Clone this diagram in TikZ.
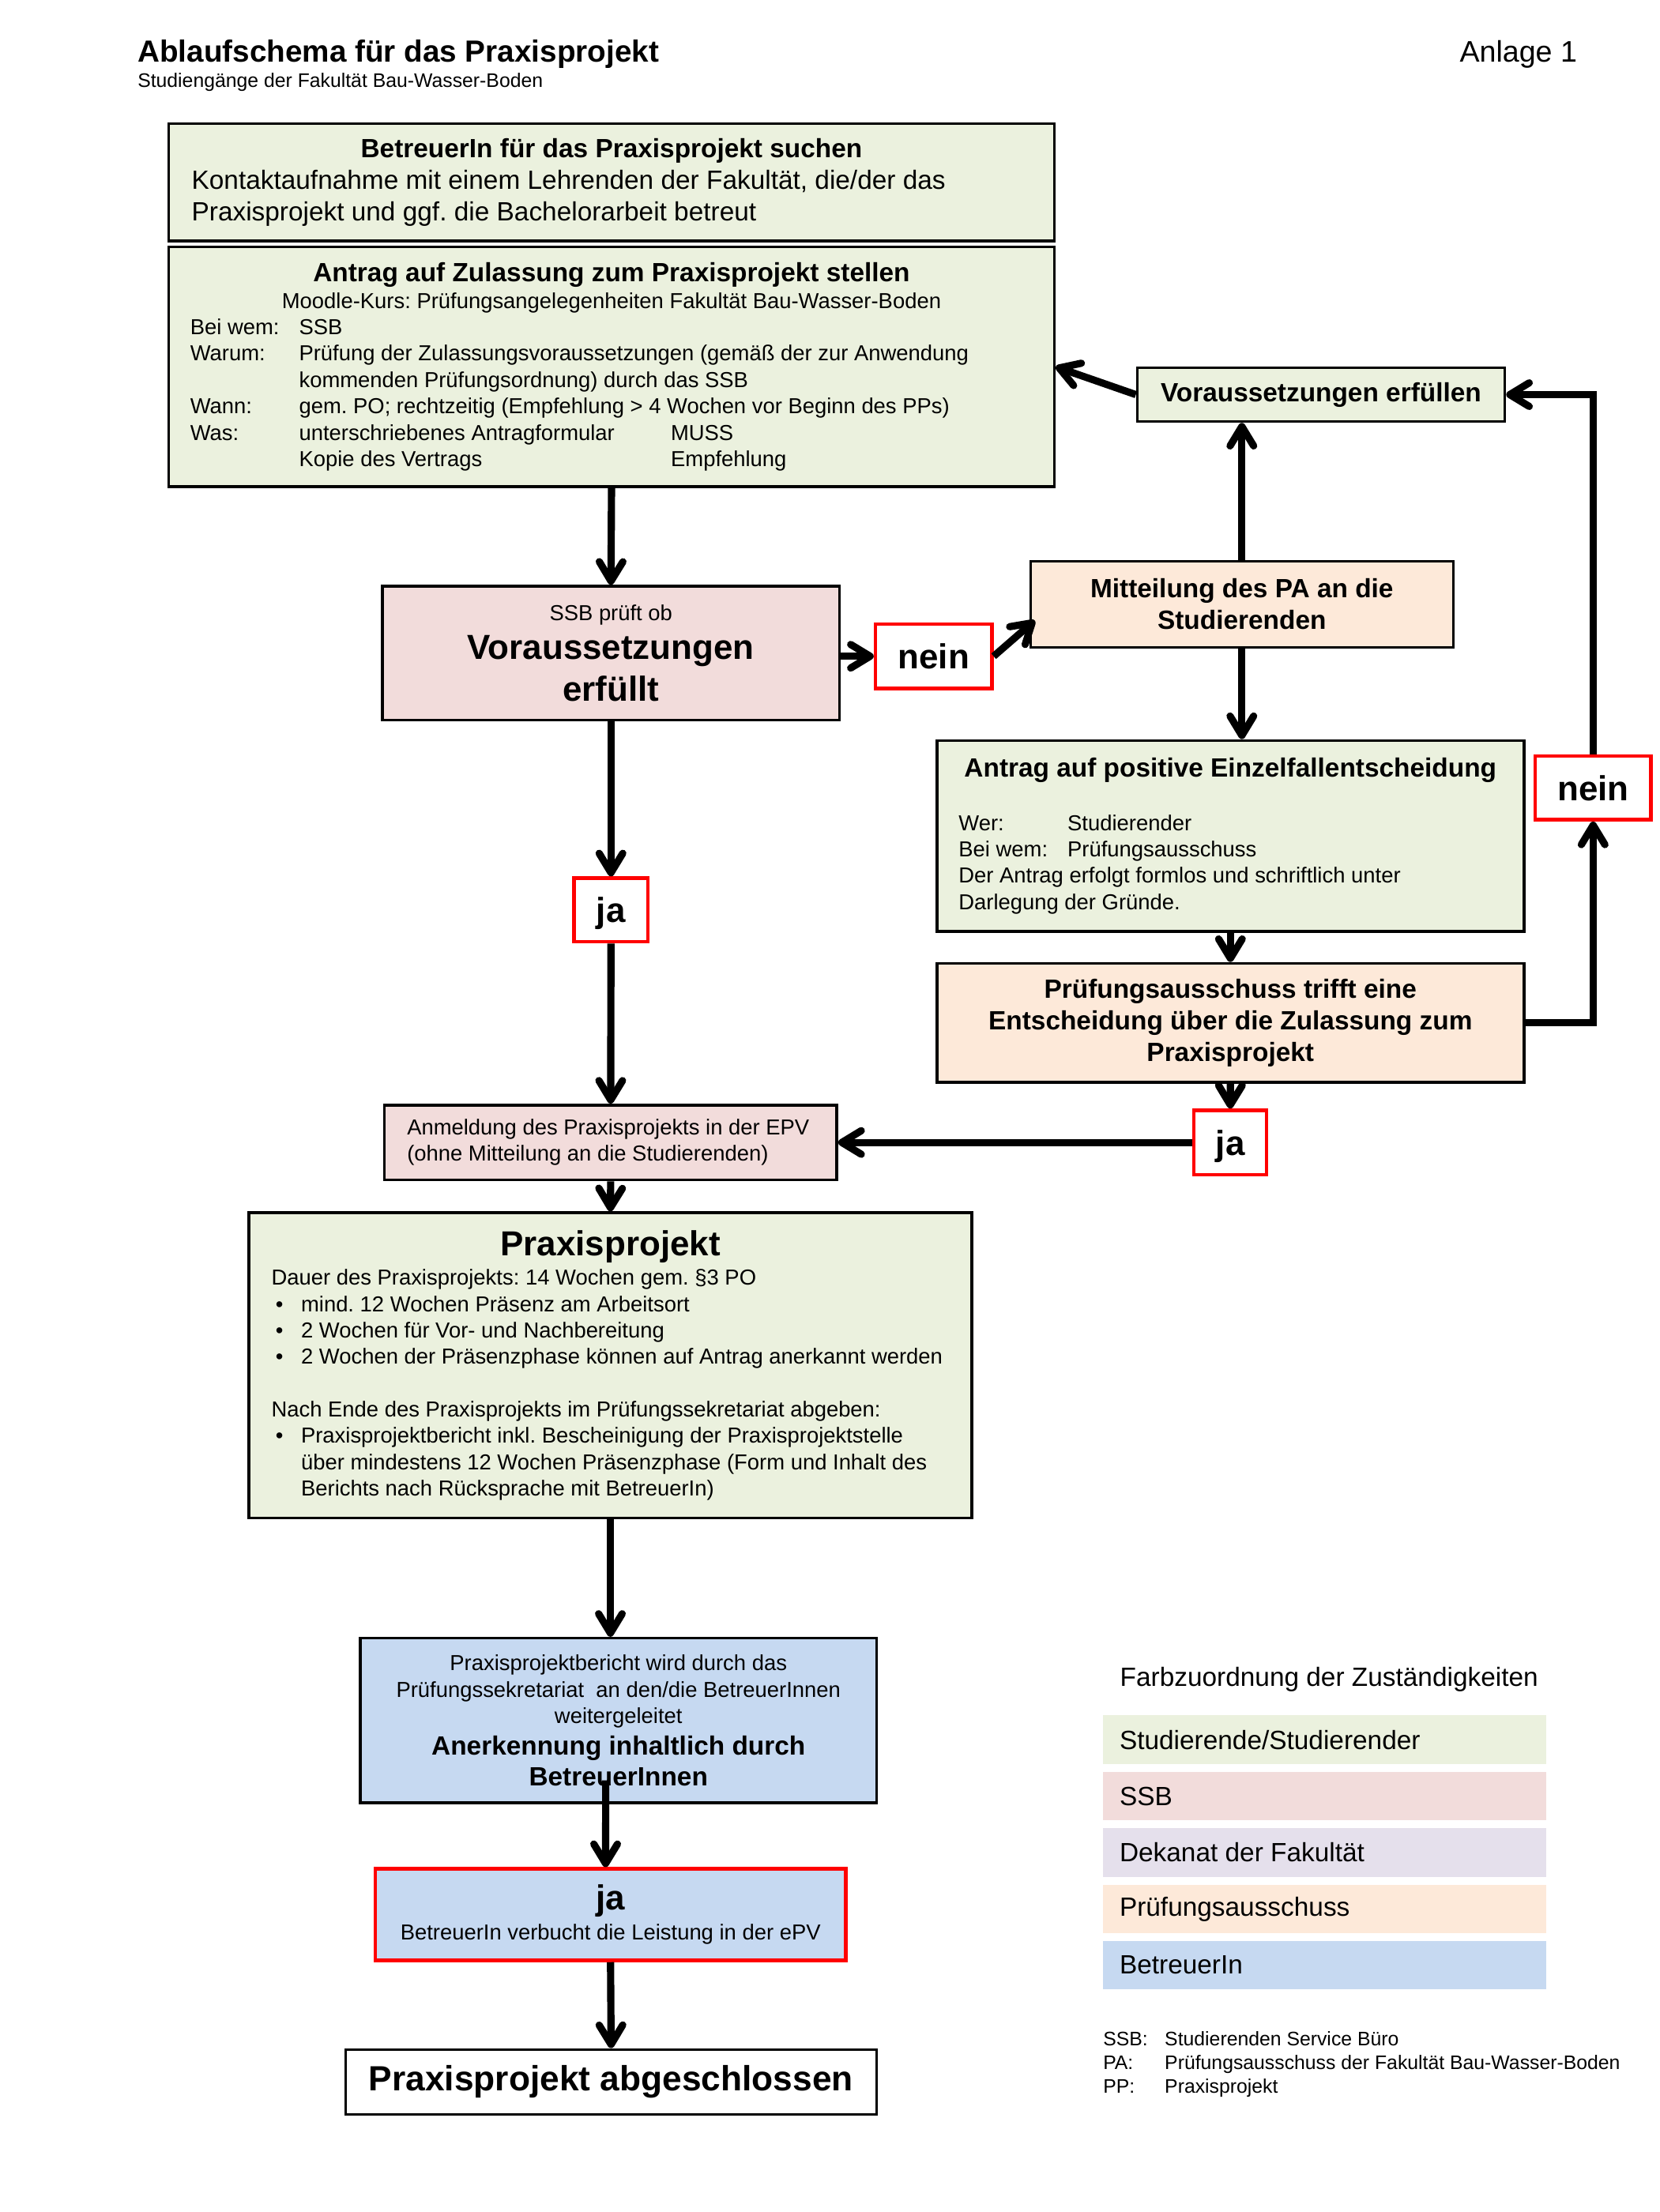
\documentclass[tikz,border=0pt]{standalone}
\usepackage{fontspec}
\setmainfont{Liberation Sans}
\usetikzlibrary{arrows.meta}
\definecolor{studgreen}{HTML}{EBF1DE}
\definecolor{ssbpink}{HTML}{F2DCDB}
\definecolor{dekpurple}{HTML}{E5E0EC}
\definecolor{paorange}{HTML}{FDE9D9}
\definecolor{betblue}{HTML}{C6D9F1}
\newdimen\px \px=0.17888mm
\newcommand\fsbody{\fontsize{9.5pt}{11.4pt}\selectfont}
\newcommand\fssmall{\fontsize{7.8pt}{9.5pt}\selectfont}
\newcommand\fsbig{\fontsize{12.5pt}{15.2pt}\selectfont}
\newcommand\fstiny{\fontsize{7.05pt}{8.5pt}\selectfont}
\newcommand\lab[1]{\makebox[77\px][l]{#1}}
\newcommand\bul{\makebox[21\px][l]{\hspace{3\px}\textbullet}}
\frenchspacing
\tikzset{
  box/.style={draw, line width=1pt, inner sep=0pt, font=\fsbody},
  sz/.style 2 args={minimum width=#1*\px, minimum height=#2*\px},
  answer/.style={draw=red, line width=1.3pt, inner sep=0pt, fill=white, text depth=0pt, font=\fsbig\bfseries},
  flow/.style={->, line width=2.6pt},
  legend/.style={fill=#1, sz={314}{34.4}, inner sep=0pt, text width=290*\px, align=flush left, font=\fsbody}
}
\begin{document}
\begin{tikzpicture}[x=0.17888mm, y=-0.17888mm, >={Straight Barb[length=7pt,width=8.5pt,round]}]
\useasboundingbox (0,0) rectangle (1174,1565);

\node[anchor=base west, inner sep=0pt, font=\fontsize{11pt}{13pt}\selectfont\bfseries] (title) at (97,43.9) {Ablaufschema für das Praxisprojekt};
\node[anchor=base west, inner sep=0pt, font=\fstiny] (subtitle) at (97,61.9) {Studiengänge der Fakultät Bau-Wasser-Boden};
\node[anchor=base east, inner sep=0pt, font=\fontsize{10.7pt}{13pt}\selectfont] (anlage) at (1116,43.9) {Anlage 1};

\node[box, fill=studgreen, sz={626.5}{83}, text width=594*\px, align=flush left] (suchen) at (432.6,129)
  {{\centering\bfseries BetreuerIn für das Praxisprojekt suchen\par}
   Kontaktaufnahme mit einem Lehrenden der Fakultät, die/der das\\
   Praxisprojekt und ggf. die Bachelorarbeit betreut\par};
\node[box, fill=studgreen, sz={626.5}{169.7}, text width=596*\px, align=flush left] (antrag) at (432.6,259.5)
  {{\centering\bfseries Antrag auf Zulassung zum Praxisprojekt stellen\par}
   \fssmall
   {\centering Moodle-Kurs: Prüfungsangelegenheiten Fakultät Bau-Wasser-Boden\par}
   \lab{Bei wem:}SSB\\
   \lab{Warum:}Prüfung der Zulassungsvoraussetzungen (gemäß der zur Anwendung\\
   \lab{}kommenden Prüfungsordnung) durch das SSB\\
   \lab{Wann:}gem. PO; rechtzeitig (Empfehlung > 4 Wochen vor Beginn des PPs)\\
   \lab{Was:}\makebox[263\px][l]{unterschriebenes Antragformular}MUSS\\
   \lab{}\makebox[263\px][l]{Kopie des Vertrags}Empfehlung\par};
\node[box, fill=ssbpink, sz={323.3}{94.8}, text width=300*\px, align=flush center] (pruefung) at (432.2,462.1)
  {{\fssmall SSB prüft ob\par}\vspace{-1.2pt}
   {\fsbig\bfseries Voraussetzungen\\erfüllt\par}};
\node[answer, sz={82.3}{45.4}] (nein1) at (660.5,464.3) {nein};
\node[box, fill=paorange, sz={299}{61}, text width=280*\px, align=flush center, font=\fsbody\bfseries] (mitteilung) at (878.5,427.5)
  {Mitteilung des PA an die\\Studierenden};
\node[box, fill=studgreen, sz={260}{38}, font=\fsbody\bfseries] (erfuellen) at (934.5,279.2) {Voraussetzungen erfüllen};
\node[box, fill=studgreen, sz={415.3}{135}, text width=400*\px, align=flush left] (einzelfall) at (870.4,591.4)
  {{\centering\bfseries Antrag auf positive Einzelfallentscheidung\par}
   \vspace{9.8pt}\fssmall\leftskip=7.8\px\relax
   \lab{Wer:}Studierender\\
   \lab{Bei wem:}Prüfungsausschuss\\
   Der Antrag erfolgt formlos und schriftlich unter\\
   Darlegung der Gründe.\par};
\node[box, fill=paorange, sz={415.3}{84}, text width=395*\px, align=flush center, font=\fsbody\bfseries] (entscheidung) at (870.4,723.6)
  {Prüfungsausschuss trifft eine\\Entscheidung über die Zulassung zum\\Praxisprojekt};
\node[answer, sz={82}{45}] (nein2) at (1127,557.5) {nein};
\node[answer, sz={52}{45}] (ja1) at (432.2,643.8) {ja};
\node[answer, sz={51.5}{45.5}] (ja2) at (870.3,808.3) {ja};
\node[box, fill=ssbpink, sz={320}{53}, text width=300*\px, align=flush left, font=\fssmall] (anmeldung) at (432,808.3)
  {\leftskip=6\px\relax Anmeldung des Praxisprojekts in der EPV\\(ohne Mitteilung an die Studierenden)\par};
\node[box, fill=studgreen, sz={511.6}{216}, text width=496*\px, align=flush left, font=\fssmall] (praxis) at (431.8,966)
  {{\centering\fsbig\bfseries Praxisprojekt\par}
   \vspace{1.2pt}\leftskip=8.2\px\relax
   Dauer des Praxisprojekts: 14 Wochen gem. §3 PO\\
   \bul mind. 12 Wochen Präsenz am Arbeitsort\\
   \bul 2 Wochen für Vor- und Nachbereitung\\
   \bul 2 Wochen der Präsenzphase können auf Antrag anerkannt werden\\[9.5pt]
   Nach Ende des Praxisprojekts im Prüfungssekretariat abgeben:\\
   \bul Praxisprojektbericht inkl. Bescheinigung der Praxisprojektstelle\\
   \hspace*{21\px}über mindestens 12 Wochen Präsenzphase (Form und Inhalt des\\
   \hspace*{21\px}Berichts nach Rücksprache mit BetreuerIn)\par};
\node[box, fill=betblue, sz={365}{116.6}, text width=340*\px, align=flush center, font=\fssmall] (anerkennung) at (437.5,1217.3)
  {Praxisprojektbericht wird durch das\\Prüfungssekretariat\ \ an den/die BetreuerInnen\\weitergeleitet\par
   {\fontsize{9.5pt}{11.2pt}\selectfont\bfseries Anerkennung inhaltlich durch\\BetreuerInnen\par}};
\node[draw=red, line width=1.3pt, fill=betblue, sz={332.8}{64.7}, inner sep=0pt, text width=320*\px, align=flush center, font=\fssmall] (verbucht) at (431.9,1354.6)
  {{\fsbig\bfseries ja\par}\vspace{1.2pt}
   BetreuerIn verbucht die Leistung in der ePV\par};
\node[box, fill=white, sz={375.5}{46}, font=\fontsize{12.6pt}{15pt}\selectfont\bfseries] (fertig) at (432.3,1473) {Praxisprojekt abgeschlossen};

% Farblegende
\node[anchor=base west, inner sep=0pt, font=\fsbody] (legtitle) at (792,1193) {Farbzuordnung der Zuständigkeiten};
\node[legend=studgreen] (legstud) at (937,1230.8) {Studierende/Studierender};
\node[legend=ssbpink] (legssb) at (937,1270.8) {SSB};
\node[legend=dekpurple] (legdekanat) at (937,1310.7) {Dekanat der Fakultät};
\node[legend=paorange] (legpa) at (937,1350.6) {Prüfungsausschuss};
\node[legend=betblue] (legbetreuer) at (937,1390.2) {BetreuerIn};
\node[anchor=base west, inner sep=0pt, font=\fstiny] (abbssb) at (780,1447.6) {\makebox[43.6\px][l]{SSB:}Studierenden Service Büro};
\node[anchor=base west, inner sep=0pt, font=\fstiny] (abbpa) at (780,1464.3) {\makebox[43.6\px][l]{PA:}Prüfungsausschuss der Fakultät Bau-Wasser-Boden};
\node[anchor=base west, inner sep=0pt, font=\fstiny] (abbpp) at (780,1481) {\makebox[43.6\px][l]{PP:}Praxisprojekt};

% Pfeile
\draw[flow] (antrag.south) -- (pruefung.north);
\draw[flow] (pruefung.east |- nein1.west) -- (nein1.west);
\draw[flow] (nein1.east) -- ([shift={(4,11.5)}]mitteilung.west);
\draw[flow] (mitteilung.north) -- (mitteilung.north |- erfuellen.south);
\draw[flow] (erfuellen.west) -- (antrag.east);
\draw[flow] (mitteilung.south) -- (mitteilung.south |- einzelfall.north);
\draw[flow] (einzelfall.south) -- (entscheidung.north);
\draw[flow] (entscheidung.east) -| (nein2.south);
\draw[flow] (nein2.north) |- (erfuellen.east);
\draw[flow] (entscheidung.south) -- (ja2.north);
\draw[flow] (ja2.west) -- (anmeldung.east);
\draw[flow] (pruefung.south) -- (ja1.north);
\draw[flow] (ja1.south) -- (anmeldung.north);
\draw[flow] (anmeldung.south) -- (praxis.north);
\draw[flow] (praxis.south) -- (praxis.south |- anerkennung.north);
\draw[flow] ([shift={(-9,-17)}]anerkennung.south) -- ([shift={(-3.5,0)}]verbucht.north);
\draw[flow] (verbucht.south) -- (fertig.north);
\end{tikzpicture}
\end{document}
